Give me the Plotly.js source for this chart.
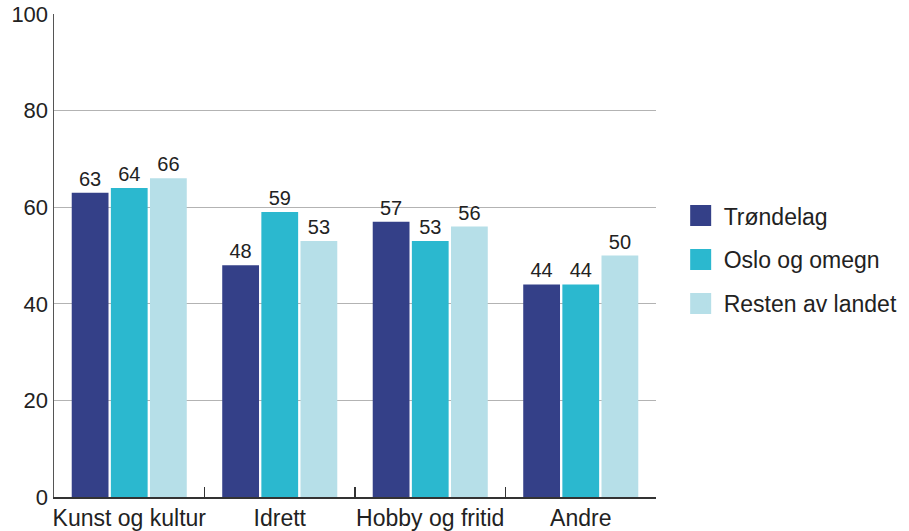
<!DOCTYPE html>
<html>
<head>
<meta charset="utf-8">
<script src="https://cdn.plot.ly/plotly-3.0.1.min.js"></script>
<style>
  html, body { margin: 0; padding: 0; background: #fff; }
  #chart { width: 909px; height: 531px; }
</style>
</head>
<body>
<div id="chart"></div>
<script>
var categories = ['Kunst og kultur', 'Idrett', 'Hobby og fritid', 'Andre'];
var seriesNames = ['Trøndelag', 'Oslo og omegn', 'Resten av landet'];
var trondelag = [63, 48, 57, 44];
var osloOgOmegn = [64, 59, 53, 44];
var restenAvLandet = [66, 53, 56, 50];
var colors = ['#344088', '#2bb8cf', '#b6dfe8'];

var seriesValues = [trondelag, osloOgOmegn, restenAvLandet];
var data = [];

seriesValues.forEach(function (vals, i) {
    data.push({
        type: 'bar',
        x: categories,
        y: vals,
        name: seriesNames[i],
        legendgroup: 'g' + i,
        showlegend: false,
        text: vals.map(String),
        textposition: 'outside',
        cliponaxis: false,
        textfont: { size: 20, color: '#222' },
        hoverinfo: 'none',
        marker: { color: colors[i] }
    });
});

// legend entries (bigger squares than the bar legend gives)
seriesValues.forEach(function (vals, i) {
    data.push({
        type: 'scatter',
        mode: 'markers',
        x: [null],
        y: [null],
        name: seriesNames[i],
        legendgroup: 'g' + i,
        hoverinfo: 'none',
        marker: { symbol: 'square', size: 16, color: colors[i], line: { width: 5, color: colors[i] } }
    });
});

var layout = {
    width: 909,
    height: 531,
    margin: { l: 54, r: 253, t: 14, b: 34, autoexpand: false },
    paper_bgcolor: '#fff',
    plot_bgcolor: '#fff',
    font: { family: '"Liberation Sans", Arial, sans-serif', color: '#222', size: 22 },
    barmode: 'group',
    bargap: 0.22,
    bargroupgap: 0.06,
    showlegend: true,
    legend: {
        x: 1.036,
        xanchor: 'left',
        y: 0.627,
        yanchor: 'top',
        traceorder: 'grouped',
        tracegroupgap: 11,
        itemwidth: 36,
        font: { size: 23, color: '#222' },
        bgcolor: 'rgba(0,0,0,0)'
    },
    xaxis: {
        type: 'category',
        showline: true,
        linecolor: '#333',
        linewidth: 1.5,
        ticks: 'inside',
        tickson: 'boundaries',
        ticklen: 10,
        tickcolor: '#333',
        tickwidth: 1.5,
        tickangle: 0,
        showgrid: false,
        tickfont: { size: 23, color: '#222' }
    },
    yaxis: {
        range: [0, 100],
        dtick: 20,
        showline: true,
        linecolor: '#555',
        linewidth: 1.5,
        ticks: '',
        showgrid: true,
        gridcolor: '#b3b3b3',
        gridwidth: 1,
        zeroline: false,
        tickfont: { size: 22, color: '#222' }
    }
};

Plotly.newPlot('chart', data, layout, { displayModeBar: false, staticPlot: true });
</script>
</body>
</html>
